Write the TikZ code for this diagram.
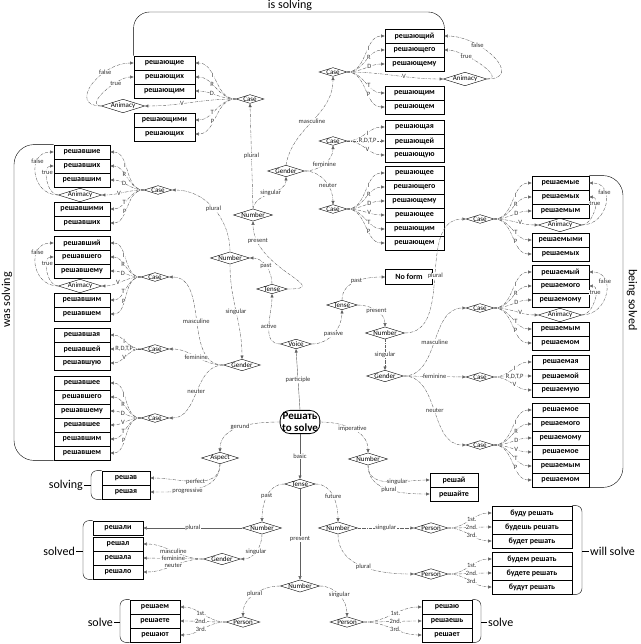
\documentclass[tikz,border=0pt]{standalone}
\usepackage{fontspec}
\setmainfont{Carlito}
\usetikzlibrary{shapes.geometric,arrows.meta}

\newcommand{\wordcol}[6]{%
  \foreach \w [count=\k from #5] in {#6}
    \node[form, minimum width=#4] (#1\k) at ({#2+#4/2},{#3+7+14*(\k-#5)}) {\w};}
\newcommand{\casefan}[7]{%
  \foreach \k/\t in {1/I,2/R,3/D,4/T,5/P}
    \draw[link] (#1.#4) to[out=#6,in=#7] node[lbl,pos=0.6]{\t} (#2\k.#5);
  \draw[link] (#1.#4) to[out=#6,in=#7] node[lbl,pos=0.6]{V} (#3.#5);
  \draw[link] (#3.#4) to[out=#6,in=#6,looseness=1.6] node[lbl,pos=0.7]{false} (#21.#4);
  \draw[link] (#3.#4) to[out=#6,in=#6] node[lbl,pos=0.7]{true} (#22.#4);}

\begin{document}
\begin{tikzpicture}
[x=1pt, y=-1pt,
form/.style={draw, thick, rectangle, minimum height=14pt, inner sep=0pt, font=\fontsize{8}{9}\selectfont\bfseries},
dia/.style={draw, diamond, aspect=3.2, inner sep=0pt, font=\fontsize{7}{8}\selectfont},
link/.style={-{Triangle[length=3.5pt,width=3pt]}, densely dashdotted, gray!75!black},
main/.style={-{Triangle[length=3.5pt,width=3pt]}, gray!75!black},
lbl/.style={font=\fontsize{6.5}{7}\selectfont, text=black!80, fill=white, inner sep=0.3pt},
big/.style={font=\fontsize{12}{13}\selectfont}]
\useasboundingbox (0,0) rectangle (640,644);

% word forms
\wordcol{pl}{134}{56}{61}{1}{решающие,решающих,решающим}
\wordcol{pl}{134}{113}{61}{4}{решающими,решающих}
\wordcol{pm}{385}{29}{59}{1}{решающий,решающего,решающему}
\wordcol{pm}{385}{86}{59}{4}{решающим,решающем}
\wordcol{pf}{385}{120}{59}{1}{решающая,решающей,решающую}
\wordcol{pn}{385}{166}{59}{1}{решающее,решающего,решающему,решающее,решающим,решающем}
\wordcol{wl}{54}{145}{56}{1}{решавшие,решавших,решавшим}
\wordcol{wl}{54}{202}{56}{4}{решавшими,решавших}
\wordcol{wm}{54}{236}{56}{1}{решавший,решавшего,решавшему}
\wordcol{wm}{54}{293}{56}{4}{решавшим,решавшем}
\wordcol{wf}{54}{328}{56}{1}{решавшая,решавшей,решавшую}
\wordcol{wn}{54}{376}{56}{1}{решавшее,решавшего,решавшему,решавшее,решавшим,решавшем}
\wordcol{sl}{532}{176}{57}{1}{решаемые,решаемых,решаемым}
\wordcol{sl}{532}{233}{57}{4}{решаемыми,решаемых}
\wordcol{sm}{532}{265}{57}{1}{решаемый,решаемого,решаемому}
\wordcol{sm}{532}{322}{57}{4}{решаемым,решаемом}
\wordcol{sf}{532}{355}{57}{1}{решаемая,решаемой,решаемую}
\wordcol{sn}{532}{403}{57}{1}{решаемое,решаемого,решаемому,решаемое,решаемым,решаемом}
\wordcol{g}{102}{471}{48}{1}{решав,решая}
\wordcol{im}{430}{473}{48}{1}{решай,решайте}
\wordcol{pa}{93}{521}{50}{1}{решали}
\wordcol{pa}{93}{537}{50}{2}{решал,решала,решало}
\wordcol{fs}{492}{506}{80}{1}{буду решать,будешь решать,будет решать}
\wordcol{fp}{492}{552}{80}{1}{будем решать,будете решать,будут решать}
\wordcol{rp}{130}{600}{50}{1}{решаем,решаете,решают}
\wordcol{rs}{422}{600}{50}{1}{решаю,решаешь,решает}
\node[form, minimum width=47pt, minimum height=15pt] (noform) at (409,277) {No form};

% decision nodes
\node[draw, thick, rounded corners=10pt, align=center, inner sep=2pt,
  font=\fontsize{11}{12}\selectfont\bfseries] (root) at (300,422) {Решать\\to solve};
\node[dia] (voice) at (296,344) {Voice};
\node[dia] (tact) at (272,289) {Tense};
\node[dia] (tpas) at (342,305) {Tense};
\node[dia] (npres) at (253,215) {Number};
\node[dia] (npast) at (230,258) {Number};
\node[dia] (npas) at (385,333) {Number};
\node[dia] (gpres) at (286,171) {Gender};
\node[dia] (gpast) at (242,365) {Gender};
\node[dia] (gpas) at (385,376) {Gender};
\node[dia] (cpl) at (250,99) {Case};
\node[dia] (cpm) at (333,72) {Case};
\node[dia] (cpf) at (333,141) {Case};
\node[dia] (cpn) at (333,209) {Case};
\node[dia] (cwl) at (158,190) {Case};
\node[dia] (cwm) at (155,277) {Case};
\node[dia] (cwf) at (155,349) {Case};
\node[dia] (cwn) at (155,418) {Case};
\node[dia] (csl) at (480,219) {Case};
\node[dia] (csm) at (480,308) {Case};
\node[dia] (csf) at (480,377) {Case};
\node[dia] (csn) at (480,445) {Case};
\node[dia] (apl) at (123,106) {Animacy};
\node[dia] (apm) at (465,79) {Animacy};
\node[dia] (awl) at (80,195) {Animacy};
\node[dia] (awm) at (80,286) {Animacy};
\node[dia] (asl) at (560,225) {Animacy};
\node[dia] (asm) at (560,315) {Animacy};
\node[dia] (aspect) at (220,458) {Aspect};
\node[dia] (nimp) at (368,459) {Number};
\node[dia] (tbas) at (300,484) {Tense};
\node[dia] (nbpa) at (262,528) {Number};
\node[dia] (nfut) at (338,528) {Number};
\node[dia] (nbpr) at (300,586) {Number};
\node[dia] (gbpa) at (222,559) {Gender};
\node[dia] (pfs) at (431,528) {Person};
\node[dia] (pfp) at (431,574) {Person};
\node[dia] (prp) at (243,622) {Person};
\node[dia] (prs) at (347,622) {Person};

% brackets
\draw[rounded corners=16pt] (pl1.north west) |- (444,12) -- (pm1.north east);
\node[big] at (290,5) {is solving};
\draw[rounded corners=20pt] (wl1.north west) -| (14,300) |- (wn6.south west);
\node[big, rotate=90] at (7,300) {was solving};
\draw[rounded corners=20pt] (sl1.north east) -| (623,330) |- (sn6.south east);
\node[big, rotate=-90] at (632,300) {being solved};
\draw[rounded corners=6pt] (g1.north west) -| (91,485) |- (g2.south west);
\draw (91,485) -- (84,485) node[big, left, inner sep=1pt] {solving};
\draw[rounded corners=6pt] (pa1.north west) -| (83,551) |- (pa4.south west);
\draw (83,551) -- (76,551) node[big, left, inner sep=1pt] {solved};
\draw[rounded corners=6pt] (fs1.north east) -| (582,551) |- (fp3.south east);
\draw (582,551) -- (589,551) node[big, right, inner sep=1pt] {will solve};
\draw[rounded corners=6pt] (rp1.north west) -| (120,622) |- (rp3.south west);
\draw (120,622) -- (114,622) node[big, left, inner sep=1pt] {solve};
\draw[rounded corners=6pt] (rs1.north east) -| (481,622) |- (rs3.south east);
\draw (481,622) -- (487,622) node[big, right, inner sep=1pt] {solve};

% case fans
\casefan{cpl}{pl}{apl}{west}{east}{180}{0}
\casefan{cwl}{wl}{awl}{west}{east}{180}{0}
\casefan{cwm}{wm}{awm}{west}{east}{180}{0}
\casefan{cpm}{pm}{apm}{east}{west}{0}{180}
\casefan{csl}{sl}{asl}{east}{west}{0}{180}
\casefan{csm}{sm}{asm}{east}{west}{0}{180}
\foreach \c/\f/\a/\o/\i in {cwf/wf/west/180/0, cpf/pf/east/0/180, csf/sf/east/0/180}
  \foreach \k/\t in {1/I,2/{R,D,T,P},3/V}
    \draw[link] (\c.\a) to[out=\o,in=\i] node[lbl,pos=0.55]{\t} (\f\k);
\foreach \c/\f/\a/\o/\i in {cwn/wn/west/180/0, cpn/pn/east/0/180, csn/sn/east/0/180}
  \foreach \k/\t in {1/I,2/R,3/D,4/V,5/T,6/P}
    \draw[link] (\c.\a) to[out=\o,in=\i] node[lbl,pos=0.6]{\t} (\f\k);

% main tree
\draw[main] (root.north) -- node[lbl]{participle} (voice.south);
\draw[main] (root.south) -- node[lbl]{basic} (tbas.north);
\draw[link] (root.west) to[out=180,in=90] node[lbl]{gerund} (aspect.north);
\draw[link] (root.east) to[out=0,in=90] node[lbl]{imperative} (nimp.north);
\draw[link] (voice.west) to[out=180,in=-90] node[lbl]{active} (tact.south);
\draw[link] (voice.east) to[out=0,in=-90] node[lbl]{passive} (tpas.south);
\draw[link] (tact.north) to[out=90,in=0] node[lbl]{past} (npast.east);
\draw[link] (tact.east) to[out=0,in=-90,looseness=1.6] node[lbl,pos=0.85]{present} (npres.south);
\draw[link] (npres.north) -- node[lbl]{plural} (cpl.south);
\draw[link] (npres.north) to[out=80,in=-90] node[lbl]{singular} (gpres.south);
\draw[link] (gpres.north) to[out=80,in=-90] node[lbl]{masculine} (cpm.south);
\draw[link] (gpres.east) to[out=0,in=-90] node[lbl]{feminine} (cpf.south);
\draw[link] (gpres.east) to[out=0,in=90] node[lbl,pos=0.6]{neuter} (cpn.north);
\draw[link] (npast.north) to[out=90,in=0] node[lbl]{plural} (cwl.east);
\draw[link] (npast.south) to[out=-90,in=90] node[lbl]{singular} (gpast.north);
\draw[link] (gpast.west) to[out=180,in=0] node[lbl]{masculine} (cwm.east);
\draw[link] (gpast.west) to[out=180,in=0] node[lbl]{feminine} (cwf.east);
\draw[link] (gpast.west) to[out=180,in=0] node[lbl]{neuter} (cwn.east);
\draw[link] (tpas.north) to[out=90,in=180] node[lbl]{past} (noform.west);
\draw[link] (tpas.east) to[out=0,in=90] node[lbl]{present} (npas.north);
\draw[link] (npas.east) to[out=0,in=180] node[lbl,pos=0.5]{plural} (csl.west);
\draw[link] (npas.south) -- node[lbl]{singular} (gpas.north);
\draw[link] (gpas.east) to[out=0,in=180] node[lbl]{masculine} (csm.west);
\draw[link] (gpas.east) -- node[lbl]{feminine} (csf.west);
\draw[link] (gpas.east) to[out=0,in=180] node[lbl]{neuter} (csn.west);
\draw[link] (aspect.south) to[out=-90,in=0] node[lbl]{perfect} (g1.east);
\draw[link] (aspect.south) to[out=-90,in=0] node[lbl,pos=0.6]{progressive} (g2.east);
\draw[link] (nimp.south) to[out=-90,in=180] node[lbl,pos=0.6]{singular} (im1.west);
\draw[link] (nimp.south) to[out=-90,in=180] node[lbl]{plural} (im2.west);
\draw[link] (tbas.west) to[out=180,in=90] node[lbl]{past} (nbpa.north);
\draw[link] (tbas.east) to[out=0,in=90] node[lbl]{future} (nfut.north);
\draw[main] (tbas.south) -- node[lbl,pos=0.55]{present} (nbpr.north);
\draw[main] (nbpa.west) -- node[lbl]{plural} (pa1.east);
\draw[link] (nbpa.south) to[out=-90,in=0] node[lbl]{singular} (gbpa.east);
\draw[link] (gbpa.west) to[out=180,in=0] node[lbl]{masculine} (pa2.east);
\draw[link] (gbpa.west) -- node[lbl]{feminine} (pa3.east);
\draw[link] (gbpa.west) to[out=180,in=0] node[lbl]{neuter} (pa4.east);
\draw[link] (nfut.east) -- node[lbl]{singular} (pfs.west);
\draw[link] (nfut.south) to[out=-90,in=180] node[lbl]{plural} (pfp.west);
\draw[link] (nbpr.west) to[out=180,in=90] node[lbl]{plural} (prp.north);
\draw[link] (nbpr.east) to[out=0,in=90] node[lbl]{singular} (prs.north);
\foreach \p/\f in {pfs/fs, pfp/fp, prs/rs}
  \foreach \k/\t in {1/1st.,2/2nd.,3/3rd.}
    \draw[link] (\p.east) to[out=0,in=180] node[lbl,pos=0.55]{\t} (\f\k.west);
\foreach \k/\t in {1/1st.,2/2nd.,3/3rd.}
  \draw[link] (prp.west) to[out=180,in=0] node[lbl,pos=0.55]{\t} (rp\k.east);
\end{tikzpicture}
\end{document}
